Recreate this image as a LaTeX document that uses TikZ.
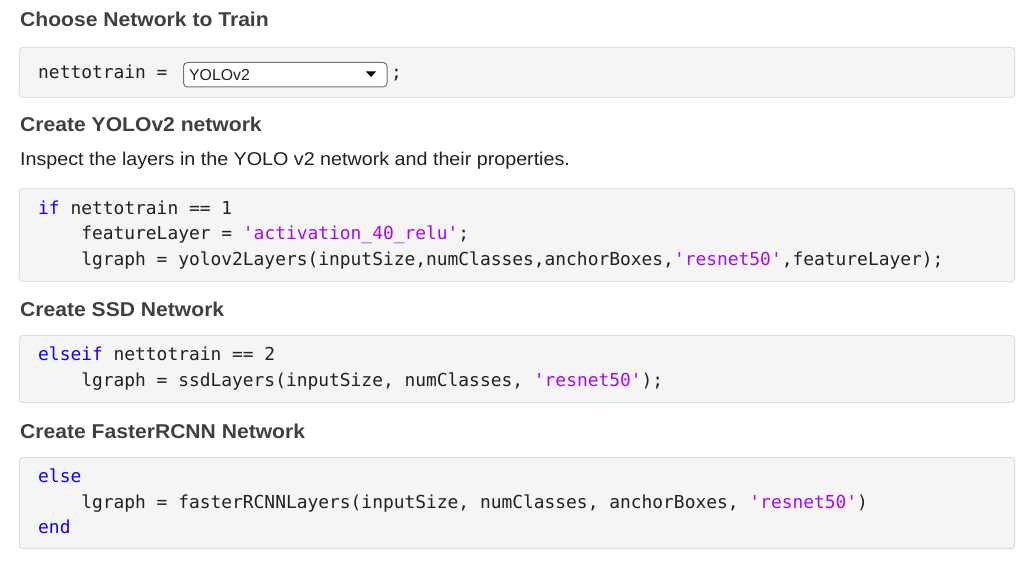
\documentclass[tikz,border=0pt]{standalone}
\usepackage{fontspec}
\setmainfont{Liberation Sans}
\setmonofont{DejaVu Sans Mono}
\newfontfamily\headfont{Liberation Sans}[FakeStretch=1.055]
\newfontfamily\parafont{Liberation Sans}[FakeStretch=1.065]
\definecolor{kw}{HTML}{0E00FF}
\definecolor{str}{HTML}{A709F5}
\definecolor{txt}{HTML}{212121}
\definecolor{head}{HTML}{404040}
\definecolor{boxfill}{HTML}{F5F5F5}
\definecolor{boxline}{HTML}{DEDEDE}
\newcommand{\K}[1]{\textcolor{kw}{#1}}
\newcommand{\Sq}[1]{\textcolor{str}{#1}}
\newcommand{\ind}{\hphantom{xxxx}}
\tikzset{
  codebox/.style={draw=boxline, fill=boxfill, rounded corners=3pt, line width=1pt},
  heading/.style={anchor=base west, inner sep=0pt, text=head, font=\headfont\fontsize{20}{23}\selectfont\bfseries},
  para/.style={anchor=base west, inner sep=0pt, text=txt, font=\parafont\fontsize{18.5}{21}\selectfont},
  code/.style={anchor=base west, inner sep=0pt, text=txt, font=\fontsize{17.9}{20}\selectfont\ttfamily},
  dropbox/.style={draw=black!55, fill=white, rounded corners=4pt, line width=1pt},
}
\begin{document}
\begin{tikzpicture}[x=1pt,y=-1pt]
\useasboundingbox[fill=white] (0,0) rectangle (1024,561);
% headings
\node[heading] (h1) at (20,27) {Choose Network to Train};
\node[heading] (h2) at (20,132) {Create YOLOv2 network};
\node[para] (p1) at (20,166) {Inspect the layers in the YOLO v2 network and their properties.};
\node[heading] (h3) at (20,316) {Create SSD Network};
\node[heading] (h4) at (20,438) {Create FasterRCNN Network};
% boxes
\draw[codebox] (19.5,47.5) rectangle (1014.5,97.5);
\draw[codebox] (19.5,188.5) rectangle (1014.5,281.5);
\draw[codebox] (19.5,335.5) rectangle (1014.5,402.5);
\draw[codebox] (19.5,457.5) rectangle (1014.5,548.5);
% box 1
\node[code] (c1) at (38,79) {nettotrain =};
\draw[dropbox] (183.5,62.5) rectangle (387,87);
\node[para, font=\fontsize{15.8}{18}\selectfont] (dd) at (189,81) {YOLOv2};
\fill[black] (366,71.5) -- (376,71.5) -- (371,77) -- cycle;
\node[code] (semi) at (391,79) {;};
% box 2
\node[code] (c2a) at (38,214.5) {\K{if} nettotrain == 1};
\node[code] (c2b) at (38,240) {\ind featureLayer = \Sq{'activation\_40\_relu'};};
\node[code] (c2c) at (38,265.5) {\ind lgraph = yolov2Layers(inputSize,numClasses,anchorBoxes,\Sq{'resnet50'},featureLayer);};
% box 3
\node[code] (c3a) at (38,360.5) {\K{elseif} nettotrain == 2};
\node[code] (c3b) at (38,386) {\ind lgraph = ssdLayers(inputSize, numClasses, \Sq{'resnet50'});};
% box 4
\node[code] (c4a) at (38,482.5) {\K{else}};
\node[code] (c4b) at (38,508) {\ind lgraph = fasterRCNNLayers(inputSize, numClasses, anchorBoxes, \Sq{'resnet50'})};
\node[code] (c4c) at (38,533.5) {\K{end}};
\end{tikzpicture}
\end{document}
